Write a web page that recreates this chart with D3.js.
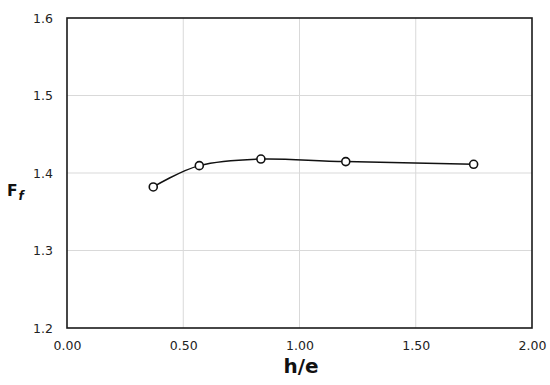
<!DOCTYPE html>
<html>
<head>
<meta charset="utf-8">
<script src="https://cdn.jsdelivr.net/npm/d3@7/dist/d3.min.js"></script>
<style>
body { margin: 0; background: #fff; }
svg { display: block; }
</style>
</head>
<body>
<svg id="chart" width="550" height="385"></svg>
<script>
const hOverE = [0.371, 0.569, 0.834, 1.199, 1.749];
const Ff = [1.382, 1.4095, 1.418, 1.4147, 1.4112];
const xTicks = [0, 0.5, 1.0, 1.5, 2.0];
const yTicks = [1.2, 1.3, 1.4, 1.5, 1.6];

const svg = d3.select("#chart");
const L = 67, R = 532, T = 18, B = 328;
const x = d3.scaleLinear().domain([0, 2]).range([L, R]);
const y = d3.scaleLinear().domain([1.2, 1.6]).range([B, T]);
const font = "'DejaVu Sans', Verdana, sans-serif";

// grid
svg.append("g").selectAll("line").data(xTicks.slice(1, -1)).join("line")
  .attr("x1", d => x(d)).attr("x2", d => x(d)).attr("y1", T).attr("y2", B)
  .attr("stroke", "#d9d9d9").attr("stroke-width", 1);
svg.append("g").selectAll("line").data(yTicks.slice(1, -1)).join("line")
  .attr("x1", L).attr("x2", R).attr("y1", d => y(d)).attr("y2", d => y(d))
  .attr("stroke", "#d9d9d9").attr("stroke-width", 1);

// frame
svg.append("rect").attr("x", L).attr("y", T).attr("width", R - L).attr("height", B - T)
  .attr("fill", "none").attr("stroke", "#1a1a1a").attr("stroke-width", 1.6);

// axes labels
const xAxis = d3.axisBottom(x).tickValues(xTicks).tickFormat(d3.format(".2f")).tickSize(0).tickPadding(13);
const gx = svg.append("g").attr("transform", `translate(0,${B})`).call(xAxis);
gx.select(".domain").remove();
gx.selectAll("text").attr("font-family", font).attr("font-size", 12.5).attr("fill", "#222");

const yAxis = d3.axisLeft(y).tickValues(yTicks).tickFormat(d3.format(".1f")).tickSize(0).tickPadding(14);
const gy = svg.append("g").attr("transform", `translate(${L},0)`).call(yAxis);
gy.select(".domain").remove();
gy.selectAll("text").attr("font-family", font).attr("font-size", 12.5).attr("fill", "#222");

// titles
svg.append("text").attr("x", 301).attr("y", 372.5).attr("text-anchor", "middle")
  .attr("font-family", font).attr("font-weight", "bold").attr("font-size", 20).attr("fill", "#111")
  .text("h/e");
const ft = svg.append("text").attr("x", 7).attr("y", 196)
  .attr("font-family", font).attr("font-weight", "bold").attr("font-size", 15.5).attr("fill", "#111");
ft.append("tspan").text("F");
ft.append("tspan").attr("dx", 1).attr("dy", 4).attr("font-style", "italic").attr("font-size", 12).text("f");

// line
const data = hOverE.map((v, i) => [v, Ff[i]]);
const line = d3.line().x(d => x(d[0])).y(d => y(d[1])).curve(d3.curveCatmullRom.alpha(0));
svg.append("path").datum(data).attr("d", line)
  .attr("fill", "none").attr("stroke", "#111").attr("stroke-width", 1.5);

svg.append("g").selectAll("circle").data(data).join("circle")
  .attr("cx", d => x(d[0])).attr("cy", d => y(d[1])).attr("r", 4)
  .attr("fill", "#fff").attr("stroke", "#111").attr("stroke-width", 1.6);
</script>
</body>
</html>
